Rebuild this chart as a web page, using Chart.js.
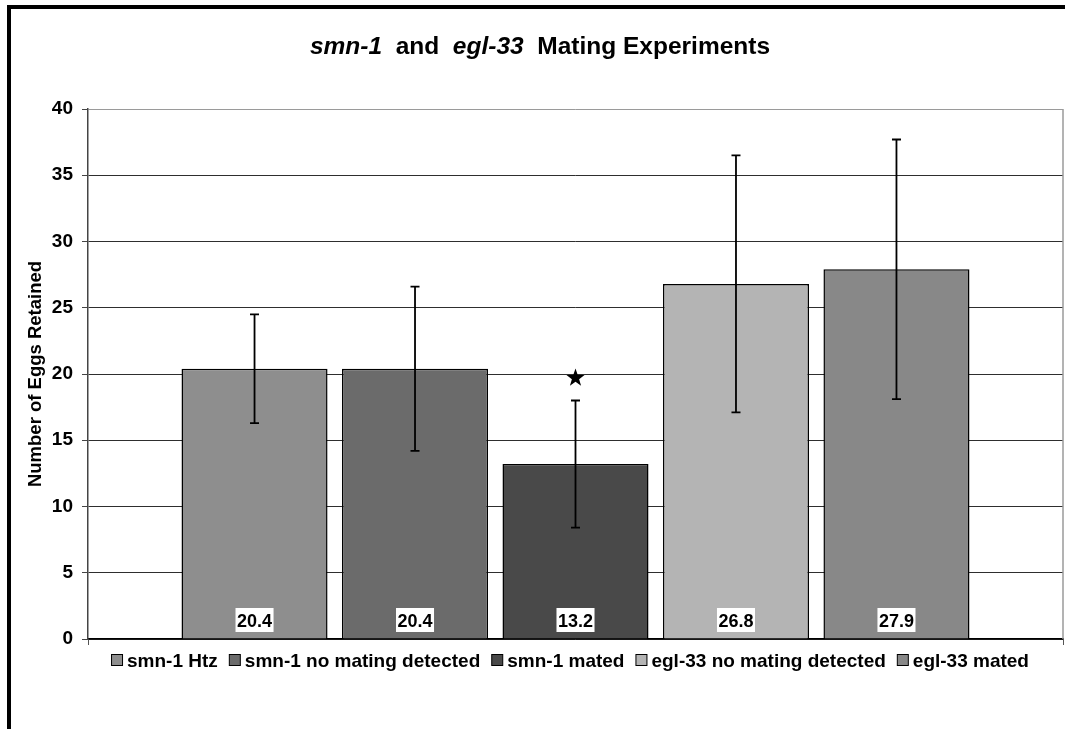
<!DOCTYPE html>
<html>
<head>
<meta charset="utf-8">
<script src="https://cdn.jsdelivr.net/npm/chart.js@4/dist/chart.umd.min.js"></script>
<style>
  html, body { margin: 0; padding: 0; background: #ffffff; }
  #wrap { width: 1065px; height: 729px; position: relative; }
</style>
</head>
<body>
<div id="wrap"><canvas id="c" width="1065" height="729"></canvas></div>
<script>
// Groups of worms and the mean number of eggs retained in each
const groups = ['smn-1 Htz', 'smn-1 no mating detected', 'smn-1 mated', 'egl-33 no mating detected', 'egl-33 mated'];
const eggsRetained = [20.4, 20.4, 13.2, 26.8, 27.9];
const errorMargin = [4.1, 6.2, 4.8, 9.7, 9.8];
const barColors = ['#8e8e8e', '#6b6b6b', '#494949', '#b4b4b4', '#888888'];
const yTicks = [0, 5, 10, 15, 20, 25, 30, 35, 40];
// Significance marker: which group, and at what height it sits
const starGroup = 2;
const starValue = 19.7;

const FONT = '"Liberation Sans", Arial, Helvetica, sans-serif';

function drawStar(ctx, cx, cy, R, r) {
  ctx.beginPath();
  for (let k = 0; k < 10; k++) {
    const rad = k % 2 === 0 ? R : r;
    const a = -Math.PI / 2 + k * Math.PI / 5;
    const px = cx + rad * Math.cos(a);
    const py = cy + rad * Math.sin(a);
    if (k === 0) ctx.moveTo(px, py); else ctx.lineTo(px, py);
  }
  ctx.closePath();
  ctx.fill();
}

const framePlugin = {
  id: 'frame',
  beforeDraw(chart) {
    const ctx = chart.ctx;
    ctx.save();
    ctx.fillStyle = '#ffffff';
    ctx.fillRect(0, 0, chart.width, chart.height);
    // heavy frame along the top and left of the figure
    ctx.fillStyle = '#000000';
    ctx.fillRect(7, 5, chart.width - 7, 4);
    ctx.fillRect(7, 5, 4, chart.height - 5);
    ctx.restore();
  }
};

const annotatePlugin = {
  id: 'annotate',
  afterDatasetsDraw(chart) {
    const ctx = chart.ctx;
    const y = chart.scales.y;
    ctx.save();
    groups.forEach((g, i) => {
      const bar = chart.getDatasetMeta(i).data[0];
      const cx = bar.x;
      // error bar
      const top = y.getPixelForValue(eggsRetained[i] + errorMargin[i]);
      const bot = y.getPixelForValue(eggsRetained[i] - errorMargin[i]);
      ctx.strokeStyle = '#000';
      ctx.lineWidth = 1.8;
      ctx.beginPath();
      ctx.moveTo(cx, top); ctx.lineTo(cx, bot);
      ctx.moveTo(cx - 4.5, top); ctx.lineTo(cx + 4.5, top);
      ctx.moveTo(cx - 4.5, bot); ctx.lineTo(cx + 4.5, bot);
      ctx.stroke();
      // value label in a white box near the base of the bar
      const txt = eggsRetained[i].toFixed(1);
      ctx.font = 'bold 18px ' + FONT;
      const w = ctx.measureText(txt).width;
      const ly = y.getPixelForValue(0) - 19;
      ctx.fillStyle = '#fff';
      ctx.fillRect(cx - w / 2 - 1.5, ly - 12, w + 3, 24);
      ctx.fillStyle = '#000';
      ctx.textAlign = 'center';
      ctx.textBaseline = 'alphabetic';
      ctx.fillText(txt, cx, ly + 7);
    });
    // significance star
    const sb = chart.getDatasetMeta(starGroup).data[0];
    ctx.fillStyle = '#000';
    drawStar(ctx, sb.x, y.getPixelForValue(starValue), 9.5, 3.8);
    ctx.restore();
  },
  afterDraw(chart) {
    const ctx = chart.ctx;
    const a = chart.chartArea;
    ctx.save();
    // right edge of the plot area
    ctx.strokeStyle = '#9a9a9a';
    ctx.lineWidth = 1.5;
    ctx.beginPath();
    ctx.moveTo(a.right, a.top); ctx.lineTo(a.right, a.bottom);
    ctx.stroke();

    // title with italic gene names
    const parts = [
      { t: 'smn-1', it: true }, { t: '  and  ', it: false },
      { t: 'egl-33', it: true }, { t: '  Mating Experiments', it: false }
    ];
    const fontOf = p => (p.it ? 'italic ' : '') + 'bold 24.5px ' + FONT;
    let total = 0;
    parts.forEach(p => { ctx.font = fontOf(p); p.w = ctx.measureText(p.t).width; total += p.w; });
    let x = 540 - total / 2;
    ctx.fillStyle = '#000';
    ctx.textAlign = 'left';
    ctx.textBaseline = 'alphabetic';
    parts.forEach(p => { ctx.font = fontOf(p); ctx.fillText(p.t, x, 54); x += p.w; });

    // y axis title
    ctx.save();
    ctx.translate(36, (a.top + a.bottom) / 2);
    ctx.rotate(-Math.PI / 2);
    ctx.font = 'bold 18.5px ' + FONT;
    ctx.textAlign = 'center';
    ctx.textBaseline = 'middle';
    ctx.fillText('Number of Eggs Retained', 0, 0);
    ctx.restore();

    // legend row
    ctx.font = 'bold 19px ' + FONT;
    const box = 12, boxGap = 4, itemGap = 11;
    const widths = groups.map(g => ctx.measureText(g).width);
    const rowW = widths.reduce((s, w) => s + w + box + boxGap, 0) + itemGap * (groups.length - 1);
    let lx = 570 - rowW / 2;
    groups.forEach((g, i) => {
      ctx.fillStyle = barColors[i];
      ctx.fillRect(lx + 0.5, 654.5, box - 1, box - 1);
      ctx.strokeStyle = '#000';
      ctx.lineWidth = 1;
      ctx.strokeRect(lx + 0.5, 654.5, box - 1, box - 1);
      ctx.fillStyle = '#000';
      ctx.textAlign = 'left';
      ctx.textBaseline = 'alphabetic';
      ctx.fillText(g, lx + box + boxGap, 667);
      lx += box + boxGap + widths[i] + itemGap;
    });
    ctx.restore();
  }
};

new Chart(document.getElementById('c'), {
  type: 'bar',
  data: {
    labels: [''],
    datasets: groups.map((g, i) => ({
      label: g,
      data: [eggsRetained[i]],
      backgroundColor: barColors[i],
      borderColor: '#000',
      borderWidth: 1.5,
      categoryPercentage: 0.823,
      barPercentage: 0.91
    }))
  },
  options: {
    responsive: false,
    animation: false,
    layout: { padding: { top: 109, bottom: 90, left: 0, right: 2 } },
    plugins: {
      legend: { display: false },
      title: { display: false },
      tooltip: { enabled: false }
    },
    scales: {
      x: {
        grid: { drawOnChartArea: false, drawTicks: true, tickLength: 6, color: '#555', offset: true },
        ticks: { display: false },
        border: { color: '#000', width: 1.5 },
        afterFit(s) { s.height = 0; }
      },
      y: {
        min: 0,
        max: 40,
        afterBuildTicks(s) { s.ticks = yTicks.map(v => ({ value: v })); },
        ticks: {
          color: '#000',
          padding: 9,
          font: { family: FONT, size: 19, weight: 'bold' }
        },
        grid: {
          color: c => (c.tick && c.tick.value === 40 ? '#9a9a9a' : '#2e2e2e'),
          lineWidth: 1,
          tickLength: 6,
          tickColor: '#444'
        },
        border: { color: '#444', width: 1.5 },
        afterFit(s) { s.width = 88; }
      }
    }
  },
  plugins: [framePlugin, annotatePlugin]
});
</script>
</body>
</html>
